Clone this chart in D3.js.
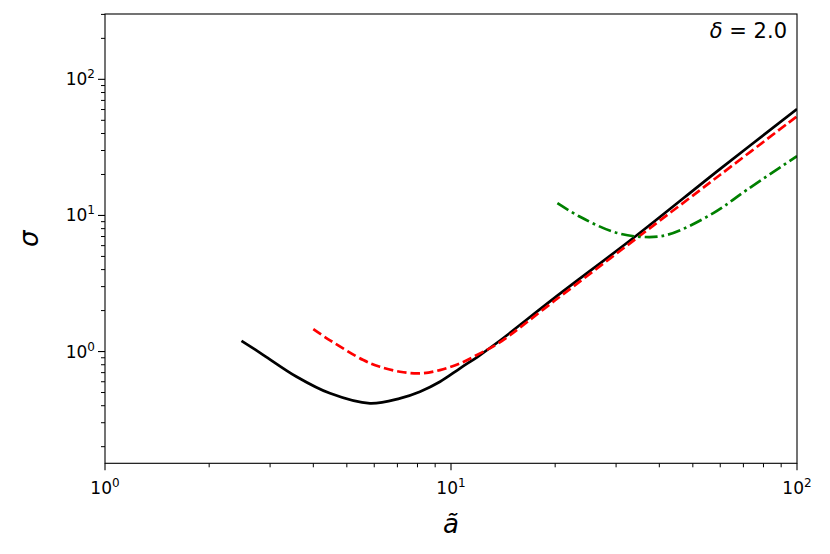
<!DOCTYPE html>
<html>
<head>
<meta charset="utf-8">
<script src="https://cdn.jsdelivr.net/npm/d3@7"></script>
<style>
  body { margin: 0; background: #fff; }
  text { font-family: "DejaVu Sans", sans-serif; }
</style>
</head>
<body>
<div id="wrapper"></div>
<script>
// values (a~, sigma)
const blackA = [2.48, 2.87, 3.58, 4.47, 5.83, 7.12, 8.13, 9.29, 10.62, 12.13, 13.71, 20.0, 34.0, 60.0, 100];
const blackS = [1.20, 0.943, 0.653, 0.493, 0.416, 0.453, 0.507, 0.600, 0.753, 0.943, 1.18, 2.50, 6.97, 22.0, 60.5];

const redA = [4.00, 4.47, 5.58, 6.23, 7.12, 8.13, 9.29, 10.62, 12.13, 13.71, 20.0, 34.4, 60.0, 100];
const redS = [1.46, 1.21, 0.866, 0.773, 0.711, 0.691, 0.731, 0.819, 0.970, 1.15, 2.38, 6.8, 19.9, 53.5];

const greenA = [20.3, 23.6, 29.4, 35.2, 42.0, 57.3, 71.6, 100];
const greenS = [12.3, 9.78, 7.59, 6.97, 7.18, 10.4, 15.4, 27.3];

const xTicks = [1, 10, 100];
const yTicks = [1, 10, 100];
const deltaLabel = "2.0";

drawChart = () => {
    let dimensions = {
        width: 830,
        height: 554,
        margin: { top: 14, right: 33, bottom: 90.7, left: 105 }
    }
    dimensions.boundedWidth = dimensions.width - dimensions.margin.left - dimensions.margin.right;
    dimensions.boundedHeight = dimensions.height - dimensions.margin.top - dimensions.margin.bottom;

    const svg = d3.select("#wrapper")
        .append("svg")
        .attr("width", dimensions.width)
        .attr("height", dimensions.height)

    const bounds = svg.append("g")
        .attr("transform", `translate(${dimensions.margin.left}, ${dimensions.margin.top})`)

    const xScale = d3.scaleLog()
        .domain([1, 100])
        .range([0, dimensions.boundedWidth])

    const yScale = d3.scaleLog()
        .domain([0.151, 302])
        .range([dimensions.boundedHeight, 0])

    // lines
    const makeLine = (xs, ys) => d3.line()
        .x((d, i) => xScale(xs[i]))
        .y((d, i) => yScale(ys[i]))
        .curve(d3.curveCatmullRom.alpha(0.5))(xs)

    bounds.append("clipPath").attr("id", "clip")
        .append("rect")
        .attr("width", dimensions.boundedWidth)
        .attr("height", dimensions.boundedHeight)

    const lines = bounds.append("g").attr("clip-path", "url(#clip)")

    lines.append("path")
        .attr("d", makeLine(blackA, blackS))
        .attr("fill", "none")
        .attr("stroke", "#000")
        .attr("stroke-width", 2.7)

    lines.append("path")
        .attr("d", makeLine(redA, redS))
        .attr("fill", "none")
        .attr("stroke", "#ff0000")
        .attr("stroke-width", 2.7)
        .attr("stroke-dasharray", "9.5,4")

    lines.append("path")
        .attr("d", makeLine(greenA, greenS))
        .attr("fill", "none")
        .attr("stroke", "#008000")
        .attr("stroke-width", 2.7)
        .attr("stroke-dasharray", "13,4,2.7,4")

    // minor ticks
    const xMinor = xScale.ticks().filter(t => !xTicks.includes(t))
    const yMinor = yScale.ticks().filter(t => !yTicks.includes(t))

    const xAxis = bounds.append("g")
        .attr("transform", `translate(0, ${dimensions.boundedHeight})`)
    xAxis.selectAll(".minor").data(xMinor).enter().append("line")
        .attr("x1", d => xScale(d)).attr("x2", d => xScale(d))
        .attr("y1", 0).attr("y2", 4)
        .attr("stroke", "#000").attr("stroke-width", 1)
    xAxis.selectAll(".major").data(xTicks).enter().append("line")
        .attr("x1", d => xScale(d)).attr("x2", d => xScale(d))
        .attr("y1", 0).attr("y2", 7)
        .attr("stroke", "#000").attr("stroke-width", 1.1)

    const xLabels = xAxis.selectAll(".lab").data(xTicks).enter().append("text")
        .attr("x", d => xScale(d))
        .attr("y", 30.5)
        .attr("text-anchor", "middle")
        .attr("font-size", 17)
    xLabels.append("tspan").text("10")
    xLabels.append("tspan").attr("dy", -7).attr("font-size", 12).text(d => Math.round(Math.log10(d)))

    const yAxis = bounds.append("g")
    yAxis.selectAll(".minor").data(yMinor).enter().append("line")
        .attr("y1", d => yScale(d)).attr("y2", d => yScale(d))
        .attr("x1", 0).attr("x2", -4)
        .attr("stroke", "#000").attr("stroke-width", 1)
    yAxis.selectAll(".major").data(yTicks).enter().append("line")
        .attr("y1", d => yScale(d)).attr("y2", d => yScale(d))
        .attr("x1", 0).attr("x2", -7)
        .attr("stroke", "#000").attr("stroke-width", 1.1)

    const yLabels = yAxis.selectAll(".lab").data(yTicks).enter().append("text")
        .attr("x", -10)
        .attr("y", d => yScale(d) + 6)
        .attr("text-anchor", "end")
        .attr("font-size", 17)
    yLabels.append("tspan").text("10")
    yLabels.append("tspan").attr("dy", -7).attr("font-size", 12).text(d => Math.round(Math.log10(d)))

    // frame
    bounds.append("rect")
        .attr("width", dimensions.boundedWidth)
        .attr("height", dimensions.boundedHeight)
        .attr("fill", "none")
        .attr("stroke", "#000")
        .attr("stroke-width", 1.1)

    // axis labels
    bounds.append("text")
        .attr("x", dimensions.boundedWidth / 2)
        .attr("y", dimensions.boundedHeight + 70)
        .attr("text-anchor", "middle")
        .attr("font-size", 26)
        .attr("font-style", "italic")
        .text("ã")

    bounds.append("text")
        .attr("transform", `translate(${-67}, ${dimensions.boundedHeight / 2}) rotate(-90)`)
        .attr("text-anchor", "middle")
        .attr("font-size", 26)
        .attr("font-style", "italic")
        .text("σ")

    const note = bounds.append("text")
        .attr("x", dimensions.boundedWidth - 10)
        .attr("y", 23.5)
        .attr("text-anchor", "end")
        .attr("font-size", 21)
    note.append("tspan").attr("font-style", "italic").text("δ")
    note.append("tspan").text(" = " + deltaLabel)
}

drawChart()
</script>
</body>
</html>
